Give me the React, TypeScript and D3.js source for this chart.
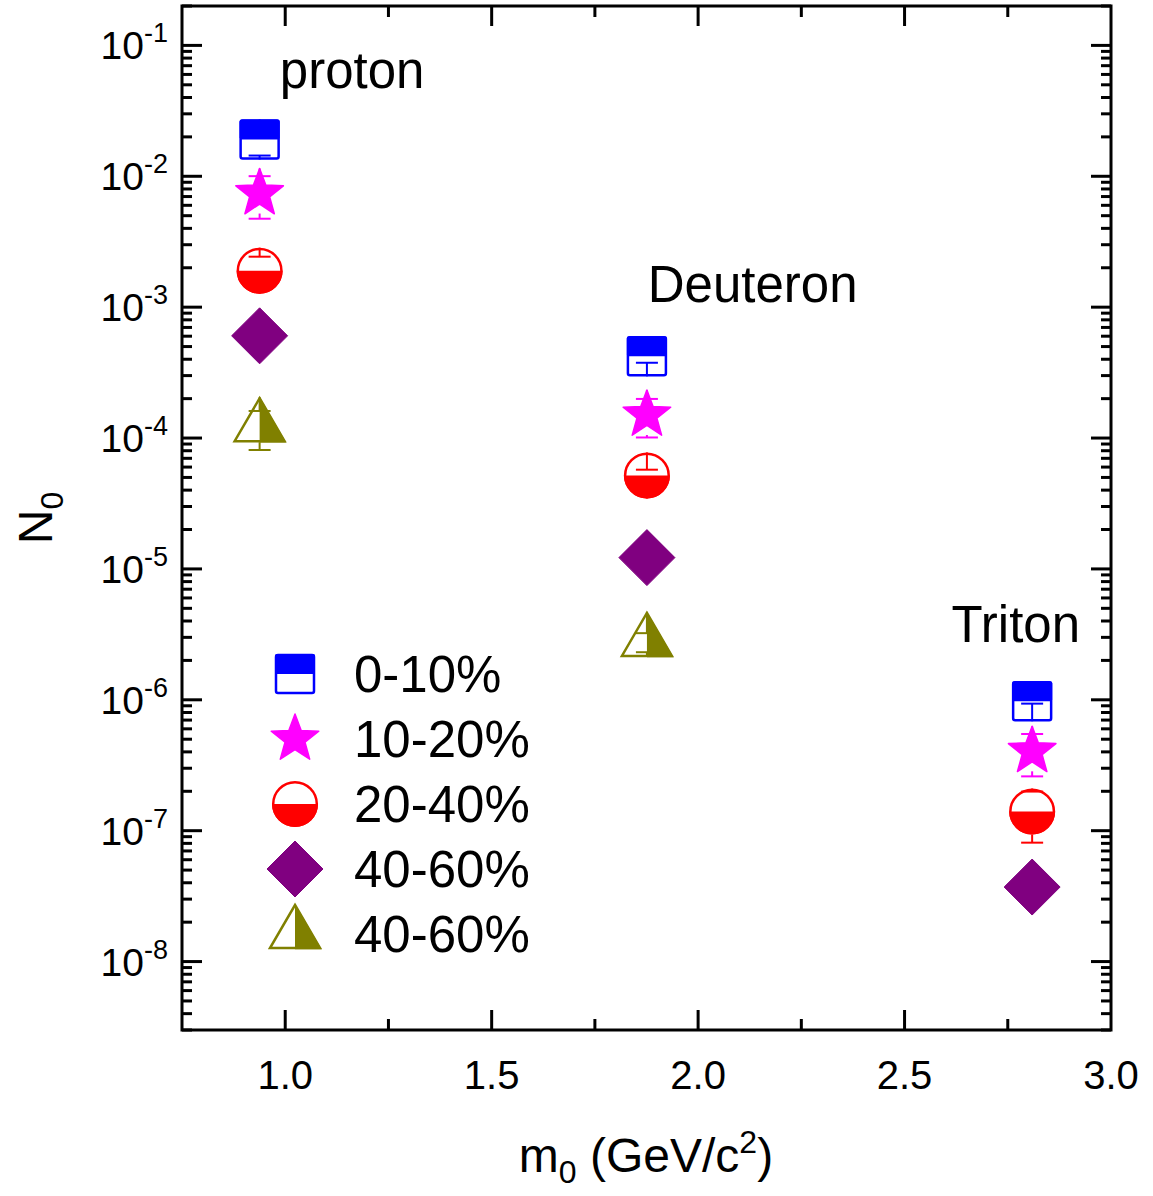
import * as d3 from "d3";
import { useEffect, useRef } from "react";

// particle masses (GeV/c^2)
const particles = ["proton", "Deuteron", "Triton"];
const masses = [0.938, 1.876, 2.809];

// N0 per centrality class
const centralities = ["0-10%", "10-20%", "20-40%", "40-60%", "40-60%"];
const n0Cent0 = [0.0191, 4.21e-4, 9.75e-7];
const errCent0 = [0.0047, 0.45e-4, 0.4e-7];
const n0Cent1 = [0.00738, 1.5e-4, 4.04e-7];
const errCent1 = [0.00264, 0.49e-4, 1.44e-7];
const n0Cent2 = [0.0019, 5.18e-5, 1.4e-7];
const errCent2 = [0.00053, 0.55e-5, 0.59e-7];
const n0Cent3 = [6.04e-4, 1.22e-5, 3.71e-8];
const errCent3 = [0, 0, 0];
const n0Cent4 = [1.21e-4, 2.77e-6];
const errCent4 = [0.4e-4, 0.46e-6];

const xTickValues = [1.0, 1.5, 2.0, 2.5, 3.0];
const yTickExponents = [-1, -2, -3, -4, -5, -6, -7, -8];

// label anchor points in data units (left edge, baseline)
const labelX = [0.987, 1.878, 2.614];
const labelY = [0.0469, 1.1e-3, 2.75e-6];

function App() {
  const ref = useRef<SVGSVGElement>(null);

  useEffect(() => {
    document.body.style.margin = "0";
    const svg = d3.select(ref.current);
    svg.selectAll("*").remove();

    const margin = { top: 6, right: 42, bottom: 166, left: 182 };
    const width = 1111 - margin.left;
    const height = 1030 - margin.top;
    const font = "'Liberation Sans', Arial, sans-serif";

    const x = d3.scaleLinear().domain([0.75, 3.0]).range([margin.left, margin.left + width]);
    const y = d3.scaleLog().domain([3e-9, 0.2]).range([margin.top + height, margin.top]);

    const colors = ["#0000ff", "#ff00ff", "#ff0000", "#800080", "#808000"];
    const shapes = ["square", "star", "circle", "diamond", "triangle"];
    const series = [
      { v: n0Cent0, e: errCent0 },
      { v: n0Cent1, e: errCent1 },
      { v: n0Cent2, e: errCent2 },
      { v: n0Cent3, e: errCent3 },
      { v: n0Cent4, e: errCent4 },
    ];

    // half extents (up, down) of each marker, for error bars starting at the edge
    const extent: Record<string, [number, number]> = {
      square: [20, 20],
      star: [25, 20],
      circle: [23, 23],
      diamond: [28, 28],
      triangle: [30, 15],
    };

    const drawMarker = (g, shape: string, cx: number, cy: number, color: string) => {
      const sw = 2.5;
      if (shape === "square") {
        g.append("rect").attr("x", cx - 19).attr("y", cy - 19).attr("width", 38).attr("height", 38)
          .attr("rx", 2).attr("fill", "white").attr("stroke", color).attr("stroke-width", sw);
        g.append("rect").attr("x", cx - 20).attr("y", cy - 20).attr("width", 40).attr("height", 20)
          .attr("rx", 2).attr("fill", color);
      } else if (shape === "circle") {
        g.append("circle").attr("cx", cx).attr("cy", cy).attr("r", 21.8)
          .attr("fill", "white").attr("stroke", color).attr("stroke-width", sw);
        g.append("path")
          .attr("d", `M${cx - 23},${cy} A23,23 0 0 0 ${cx + 23},${cy} Z`)
          .attr("fill", color);
      } else if (shape === "star") {
        const pts: [number, number][] = [];
        for (let i = 0; i < 10; i++) {
          const r = i % 2 === 0 ? 25 : 10.5;
          const a = -Math.PI / 2 + (i * Math.PI) / 5;
          pts.push([cx + r * Math.cos(a), cy + r * Math.sin(a)]);
        }
        g.append("path").attr("d", d3.line()(pts) + "Z").attr("fill", color)
          .attr("stroke", color).attr("stroke-width", 1.5).attr("stroke-linejoin", "round");
      } else if (shape === "diamond") {
        g.append("path")
          .attr("d", `M${cx},${cy - 28} L${cx + 28},${cy} L${cx},${cy + 28} L${cx - 28},${cy} Z`)
          .attr("fill", color).attr("stroke", color).attr("stroke-width", 1).attr("stroke-linejoin", "round");
      } else if (shape === "triangle") {
        g.append("path")
          .attr("d", `M${cx},${cy - 29} L${cx + 25},${cy + 14} L${cx - 25},${cy + 14} Z`)
          .attr("fill", "white").attr("stroke", color).attr("stroke-width", sw).attr("stroke-linejoin", "miter");
        g.append("path")
          .attr("d", `M${cx},${cy - 30} L${cx + 26.5},${cy + 15.3} L${cx},${cy + 15.3} Z`)
          .attr("fill", color);
      }
    };

    // frame
    svg.append("rect").attr("x", margin.left).attr("y", margin.top).attr("width", width).attr("height", height)
      .attr("fill", "none").attr("stroke", "black").attr("stroke-width", 3);

    const ticks = svg.append("g").attr("stroke", "black").attr("stroke-width", 3);
    // x ticks (major 0.5, minor 0.25) on bottom and top, inward
    d3.range(0.75, 3.001, 0.25).forEach((t) => {
      const major = Math.abs(t * 2 - Math.round(t * 2)) < 1e-6;
      const len = major ? 20 : 11;
      const px = x(t);
      if (t <= 0.76 || t >= 2.99) return;
      ticks.append("line").attr("x1", px).attr("x2", px).attr("y1", margin.top + height).attr("y2", margin.top + height - len);
      ticks.append("line").attr("x1", px).attr("x2", px).attr("y1", margin.top).attr("y2", margin.top + len);
    });
    // y ticks (log) on left and right, inward
    for (let k = -9; k <= -1; k++) {
      for (let m = 1; m <= 9; m++) {
        const v = m * Math.pow(10, k);
        if (v < 3e-9 || v > 0.2) continue;
        const len = m === 1 ? 20 : 10;
        const py = y(v);
        ticks.append("line").attr("x1", margin.left).attr("x2", margin.left + len).attr("y1", py).attr("y2", py);
        ticks.append("line").attr("x1", margin.left + width).attr("x2", margin.left + width - len).attr("y1", py).attr("y2", py);
      }
    }

    // x tick labels
    svg.append("g").selectAll("text").data(xTickValues).join("text")
      .attr("x", (d) => x(d)).attr("y", 1089).attr("text-anchor", "middle")
      .attr("font-family", font).attr("font-size", 40).text((d) => d.toFixed(1));

    // y tick labels
    const yl = svg.append("g").selectAll("text").data(yTickExponents).join("text")
      .attr("x", 168).attr("y", (d) => y(Math.pow(10, d)) + 14).attr("text-anchor", "end")
      .attr("font-family", font).attr("font-size", 39);
    yl.append("tspan").text("10");
    yl.append("tspan").attr("font-size", 27).attr("dy", -17).text((d) => `${d}`);

    // axis titles
    const xt = svg.append("text").attr("x", 646).attr("y", 1172).attr("text-anchor", "middle")
      .attr("font-family", font).attr("font-size", 48);
    xt.append("tspan").text("m");
    xt.append("tspan").attr("font-size", 32).attr("dy", 11).text("0");
    xt.append("tspan").attr("dy", -11).text(" (GeV/c");
    xt.append("tspan").attr("font-size", 32).attr("dy", -19).text("2");
    xt.append("tspan").attr("dy", 19).text(")");

    const ytl = svg.append("text").attr("transform", "translate(52,518) rotate(-90)").attr("text-anchor", "middle")
      .attr("font-family", font).attr("font-size", 48);
    ytl.append("tspan").text("N");
    ytl.append("tspan").attr("font-size", 32).attr("dy", 11).text("0");

    // particle labels
    svg.append("g").selectAll("text").data(particles).join("text")
      .attr("x", (d, i) => x(labelX[i])).attr("y", (d, i) => y(labelY[i]))
      .attr("font-family", font).attr("font-size", 51).text((d) => d);

    // data points
    const pts = svg.append("g");
    series.forEach((s, si) => {
      s.v.forEach((v, i) => {
        const cx = x(masses[i]);
        const cy = y(v);
        const g = pts.append("g");
        drawMarker(g, shapes[si], cx, cy, colors[si]);
        const e = s.e[i];
        if (e > 0) {
          const [up, dn] = extent[shapes[si]];
          const yHi = y(v + e);
          const yLo = y(v - e);
          const eb = g.append("g").attr("stroke", colors[si]).attr("stroke-width", 2);
          eb.append("line").attr("x1", cx).attr("x2", cx).attr("y1", cy - up).attr("y2", yHi);
          eb.append("line").attr("x1", cx - 11).attr("x2", cx + 11).attr("y1", yHi).attr("y2", yHi);
          eb.append("line").attr("x1", cx).attr("x2", cx).attr("y1", cy + dn).attr("y2", yLo);
          eb.append("line").attr("x1", cx - 11).attr("x2", cx + 11).attr("y1", yLo).attr("y2", yLo);
        }
      });
    });

    // legend
    const legend = svg.append("g");
    centralities.forEach((c, i) => {
      const cy = 674 + i * 65;
      drawMarker(legend, shapes[i], 295, cy, colors[i]);
      legend.append("text").attr("x", 354).attr("y", cy + 18).attr("font-family", font)
        .attr("font-size", 51).text(c);
    });
  }, []);

  return <svg ref={ref} width={1153} height={1196} style={{ display: "block", background: "white" }} />;
}

export default App;
